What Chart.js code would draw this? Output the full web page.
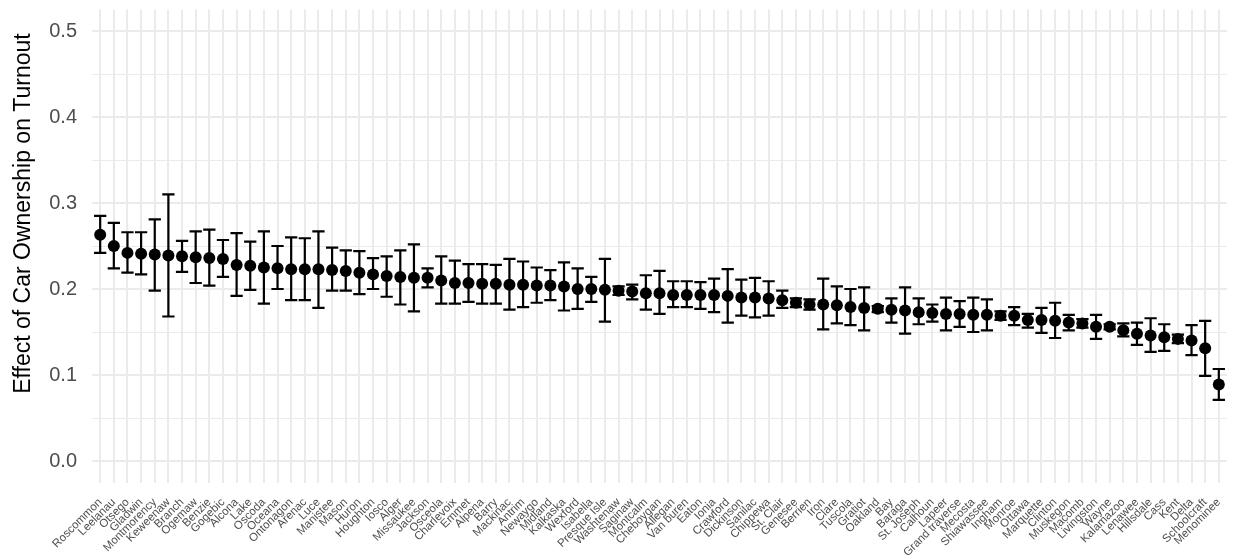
<!DOCTYPE html>
<html>
<head>
<meta charset="utf-8">
<script src="https://cdn.jsdelivr.net/npm/chart.js@4.4.1/dist/chart.umd.min.js"></script>
<style>
  html, body { margin: 0; padding: 0; background: #fff; }
  #wrap { width: 1233px; height: 559px; }
</style>
</head>
<body>
<div id="wrap"><canvas id="turnoutChart"></canvas></div>
<script>
const COUNTIES = [
  'Roscommon', 'Leelanau', 'Otsego', 'Gladwin', 'Montmorency', 'Keweenaw', 'Branch', 'Ogemaw', 'Benzie', 'Gogebic',
  'Alcona', 'Lake', 'Oscoda', 'Oceana', 'Ontonagon', 'Arenac', 'Luce', 'Manistee', 'Mason', 'Huron',
  'Houghton', 'Iosco', 'Alger', 'Missaukee', 'Jackson', 'Osceola', 'Charlevoix', 'Emmet', 'Alpena', 'Barry',
  'Mackinac', 'Antrim', 'Newaygo', 'Midland', 'Kalkaska', 'Wexford', 'Isabella', 'Presque Isle', 'Washtenaw', 'Saginaw',
  'Montcalm', 'Cheboygan', 'Allegan', 'Van buren', 'Eaton', 'Ionia', 'Crawford', 'Dickinson', 'Sanilac', 'Chippewa',
  'St. Clair', 'Genesee', 'Berrien', 'Iron', 'Clare', 'Tuscola', 'Gratiot', 'Oakland', 'Bay', 'Baraga',
  'St. Joseph', 'Calhoun', 'Lapeer', 'Grand traverse', 'Mecosta', 'Shiawassee', 'Ingham', 'Monroe', 'Ottawa', 'Marquette',
  'Clinton', 'Muskegon', 'Macomb', 'Livingston', 'Wayne', 'Kalamazoo', 'Lenawee', 'Hillsdale', 'Cass', 'Kent',
  'Delta', 'Schoolcraft', 'Menominee'
];

const ESTIMATES = [
  0.263, 0.250, 0.242, 0.241, 0.240, 0.239, 0.238, 0.237, 0.236, 0.235,
  0.228, 0.227, 0.225, 0.224, 0.223, 0.223, 0.223, 0.222, 0.221, 0.219,
  0.217, 0.215, 0.214, 0.213, 0.213, 0.210, 0.207, 0.207, 0.206, 0.206,
  0.205, 0.205, 0.204, 0.204, 0.203, 0.200, 0.200, 0.199, 0.198, 0.197,
  0.195, 0.195, 0.193, 0.193, 0.193, 0.193, 0.192, 0.190, 0.190, 0.189,
  0.187, 0.184, 0.182, 0.182, 0.181, 0.179, 0.178, 0.177, 0.176, 0.175,
  0.173, 0.172, 0.171, 0.171, 0.170, 0.170, 0.169, 0.169, 0.164, 0.164,
  0.163, 0.161, 0.160, 0.156, 0.156, 0.152, 0.148, 0.146, 0.144, 0.142,
  0.140, 0.131, 0.089
];

const UPPER = [
  0.285, 0.277, 0.266, 0.266, 0.281, 0.310, 0.256, 0.267, 0.269, 0.257,
  0.265, 0.255, 0.267, 0.250, 0.260, 0.259, 0.267, 0.248, 0.245, 0.244,
  0.236, 0.238, 0.245, 0.252, 0.224, 0.238, 0.233, 0.229, 0.229, 0.228,
  0.235, 0.232, 0.225, 0.222, 0.231, 0.224, 0.214, 0.235, 0.203, 0.205,
  0.216, 0.221, 0.209, 0.209, 0.208, 0.212, 0.223, 0.211, 0.213, 0.209,
  0.198, 0.189, 0.188, 0.212, 0.203, 0.200, 0.202, 0.180, 0.189, 0.202,
  0.189, 0.182, 0.190, 0.186, 0.190, 0.188, 0.174, 0.179, 0.171, 0.178,
  0.184, 0.170, 0.165, 0.170, 0.159, 0.160, 0.161, 0.166, 0.159, 0.147,
  0.158, 0.163, 0.107
];

const LOWER = [
  0.242, 0.224, 0.219, 0.217, 0.198, 0.168, 0.220, 0.207, 0.204, 0.214,
  0.192, 0.199, 0.183, 0.200, 0.187, 0.187, 0.178, 0.198, 0.198, 0.194,
  0.200, 0.191, 0.182, 0.174, 0.202, 0.183, 0.183, 0.185, 0.183, 0.183,
  0.176, 0.179, 0.184, 0.187, 0.175, 0.177, 0.185, 0.162, 0.193, 0.188,
  0.176, 0.171, 0.179, 0.179, 0.177, 0.173, 0.161, 0.169, 0.167, 0.169,
  0.178, 0.179, 0.176, 0.153, 0.160, 0.158, 0.152, 0.173, 0.161, 0.148,
  0.159, 0.162, 0.152, 0.156, 0.150, 0.152, 0.164, 0.158, 0.155, 0.149,
  0.143, 0.152, 0.155, 0.142, 0.153, 0.145, 0.135, 0.127, 0.128, 0.137,
  0.123, 0.099, 0.071
];

const Y_TICKS = [0, 0.05, 0.1, 0.15, 0.2, 0.25, 0.3, 0.35, 0.4, 0.45, 0.5];

const CAP_HALF = 0.45; // errorbar width 0.9 in category units
const isMajor = v => Math.abs(v * 10 - Math.round(v * 10)) < 1e-6;

Chart.defaults.font.family = "'Liberation Sans', Arial, sans-serif";

// whiskers + caps, drawn under the points
const errorBars = {
  id: 'errorBars',
  beforeDatasetsDraw(chart) {
    const { ctx, scales: { x, y } } = chart;
    ctx.save();
    ctx.strokeStyle = '#000';
    ctx.lineWidth = 2.2;
    COUNTIES.forEach((_, i) => {
      const px = x.getPixelForValue(i);
      const x0 = x.getPixelForValue(i - CAP_HALF);
      const x1 = x.getPixelForValue(i + CAP_HALF);
      const top = y.getPixelForValue(UPPER[i]);
      const bot = y.getPixelForValue(LOWER[i]);
      ctx.beginPath();
      ctx.moveTo(px, top); ctx.lineTo(px, bot);
      ctx.moveTo(x0, top); ctx.lineTo(x1, top);
      ctx.moveTo(x0, bot); ctx.lineTo(x1, bot);
      ctx.stroke();
    });
    ctx.restore();
  }
};

new Chart(document.getElementById('turnoutChart'), {
  type: 'scatter',
  data: {
    datasets: [{
      data: ESTIMATES.map((v, i) => ({ x: i, y: v })),
      backgroundColor: '#000',
      borderWidth: 0,
      pointRadius: 6,
      pointHoverRadius: 6
    }]
  },
  plugins: [errorBars],
  options: {
    responsive: true,
    maintainAspectRatio: false,
    animation: false,
    layout: { padding: { top: 9.5, right: 5, bottom: 0, left: 0 } },
    plugins: { legend: { display: false }, tooltip: { enabled: false } },
    scales: {
      x: {
        type: 'linear',
        min: -0.6,
        max: COUNTIES.length - 0.4,
        afterBuildTicks: s => { s.ticks = COUNTIES.map((_, i) => ({ value: i })); },
        afterFit: s => { s.height = 76.5; s.paddingLeft = 0; s.paddingRight = 0; },
        ticks: {
          autoSkip: false,
          minRotation: 45,
          maxRotation: 45,
          padding: 13,
          color: '#4d4d4d',
          font: { size: 11.5 },
          callback: v => COUNTIES[v]
        },
        grid: { color: '#ebebeb', lineWidth: 2, drawTicks: false },
        border: { display: false }
      },
      y: {
        min: -0.025,
        max: 0.525,
        afterBuildTicks: s => { s.ticks = Y_TICKS.map(v => ({ value: v })); },
        afterFit: s => { s.width = 92; s.paddingTop = 0; s.paddingBottom = 0; },
        ticks: {
          padding: 15,
          color: '#4d4d4d',
          font: { size: 20 },
          callback: v => isMajor(v) ? v.toFixed(1) : ''
        },
        grid: {
          color: '#ebebeb',
          lineWidth: c => isMajor(c.tick.value) ? 2 : 1,
          drawTicks: false
        },
        border: { display: false },
        title: {
          display: true,
          align: 'end',
          text: 'Effect of Car Ownership on Turnout\u00a0\u00a0\u00a0\u2009',
          color: '#000',
          font: { size: 23 },
          padding: { top: 10, bottom: 0 }
        }
      }
    }
  }
});
</script>
</body>
</html>
